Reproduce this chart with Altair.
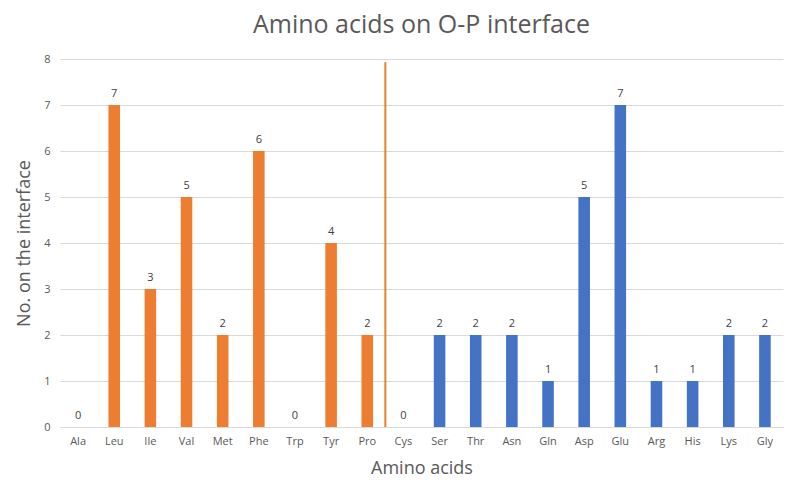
import altair as alt
import pandas as pd

categories = ["Ala", "Leu", "Ile", "Val", "Met", "Phe", "Trp", "Tyr", "Pro",
              "Cys", "Ser", "Thr", "Asn", "Gln", "Asp", "Glu", "Arg", "His", "Lys", "Gly"]
values = [0, 7, 3, 5, 2, 6, 0, 4, 2, 0, 2, 2, 2, 1, 5, 7, 1, 1, 2, 2]
groups = ["hydrophobic"] * 9 + ["polar"] * 11
y_ticks = [0, 1, 2, 3, 4, 5, 6, 7, 8]

divider_category = ["Pro"]
divider_low = [0]
divider_high = [7.93]

ORANGE = "#ED7D31"
BLUE = "#4472C4"
FONT = "Open Sans"

W, H = 723, 368
step = W / len(categories)

df = pd.DataFrame({"aa": categories, "n": values, "grp": groups})
div = pd.DataFrame({"aa": divider_category, "lo": divider_low, "hi": divider_high})

xscale = alt.Scale(domain=categories, paddingInner=0.68, paddingOuter=0.34)
yscale = alt.Scale(domain=[0, 8], nice=False)

xaxis = alt.Axis(title="Amino acids", labelAngle=0, labelFontSize=11,
                 labelColor="#595959", labelFont=FONT, labelPadding=8,
                 ticks=False, domainColor="#D9D9D9",
                 titleFontSize=18, titleFont=FONT, titleColor="#595959",
                 titleFontWeight="normal", titlePadding=13)
yaxis = alt.Axis(title="No. on the interface", values=y_ticks,
                 labelFontSize=11, labelColor="#595959", labelFont=FONT,
                 labelPadding=10, ticks=False, domain=False,
                 gridColor="#D9D9D9", titleFontSize=18, titleFont=FONT,
                 titleColor="#595959", titleFontWeight="normal",
                 titlePadding=10)

color = alt.Color("grp:N", scale=alt.Scale(domain=["hydrophobic", "polar"],
                                           range=[ORANGE, BLUE]), legend=None)

bars = alt.Chart(df).mark_bar().encode(
    x=alt.X("aa:N", sort=categories, scale=xscale, axis=xaxis),
    y=alt.Y("n:Q", scale=yscale, axis=yaxis),
    color=color)

labels = alt.Chart(df).mark_text(baseline="bottom", dy=-6, fontSize=11,
                                 font=FONT, color="#404040").encode(
    x=alt.X("aa:N", sort=categories, scale=xscale, axis=xaxis),
    y=alt.Y("n:Q", scale=yscale, axis=yaxis),
    text="n:Q")

rule = alt.Chart(div).mark_rule(color=ORANGE, strokeWidth=2, xOffset=step / 2).encode(
    x=alt.X("aa:N", sort=categories, scale=xscale, axis=xaxis),
    y=alt.Y("lo:Q", scale=yscale, axis=yaxis),
    y2="hi:Q")

chart = alt.layer(bars, labels, rule).properties(
    width=W, height=H,
    background="white",
    autosize=alt.AutoSizeParams(type="none"),
    padding={"left": 52, "top": 51, "right": 9, "bottom": 55},
    title=alt.TitleParams("Amino acids on O-P interface", fontSize=25, font=FONT,
                          fontWeight="normal", color="#595959", anchor="middle",
                          frame="group", offset=15),
).configure_view(stroke=None)

chart.save("out.html", embed_options={"renderer": "svg", "actions": False})
